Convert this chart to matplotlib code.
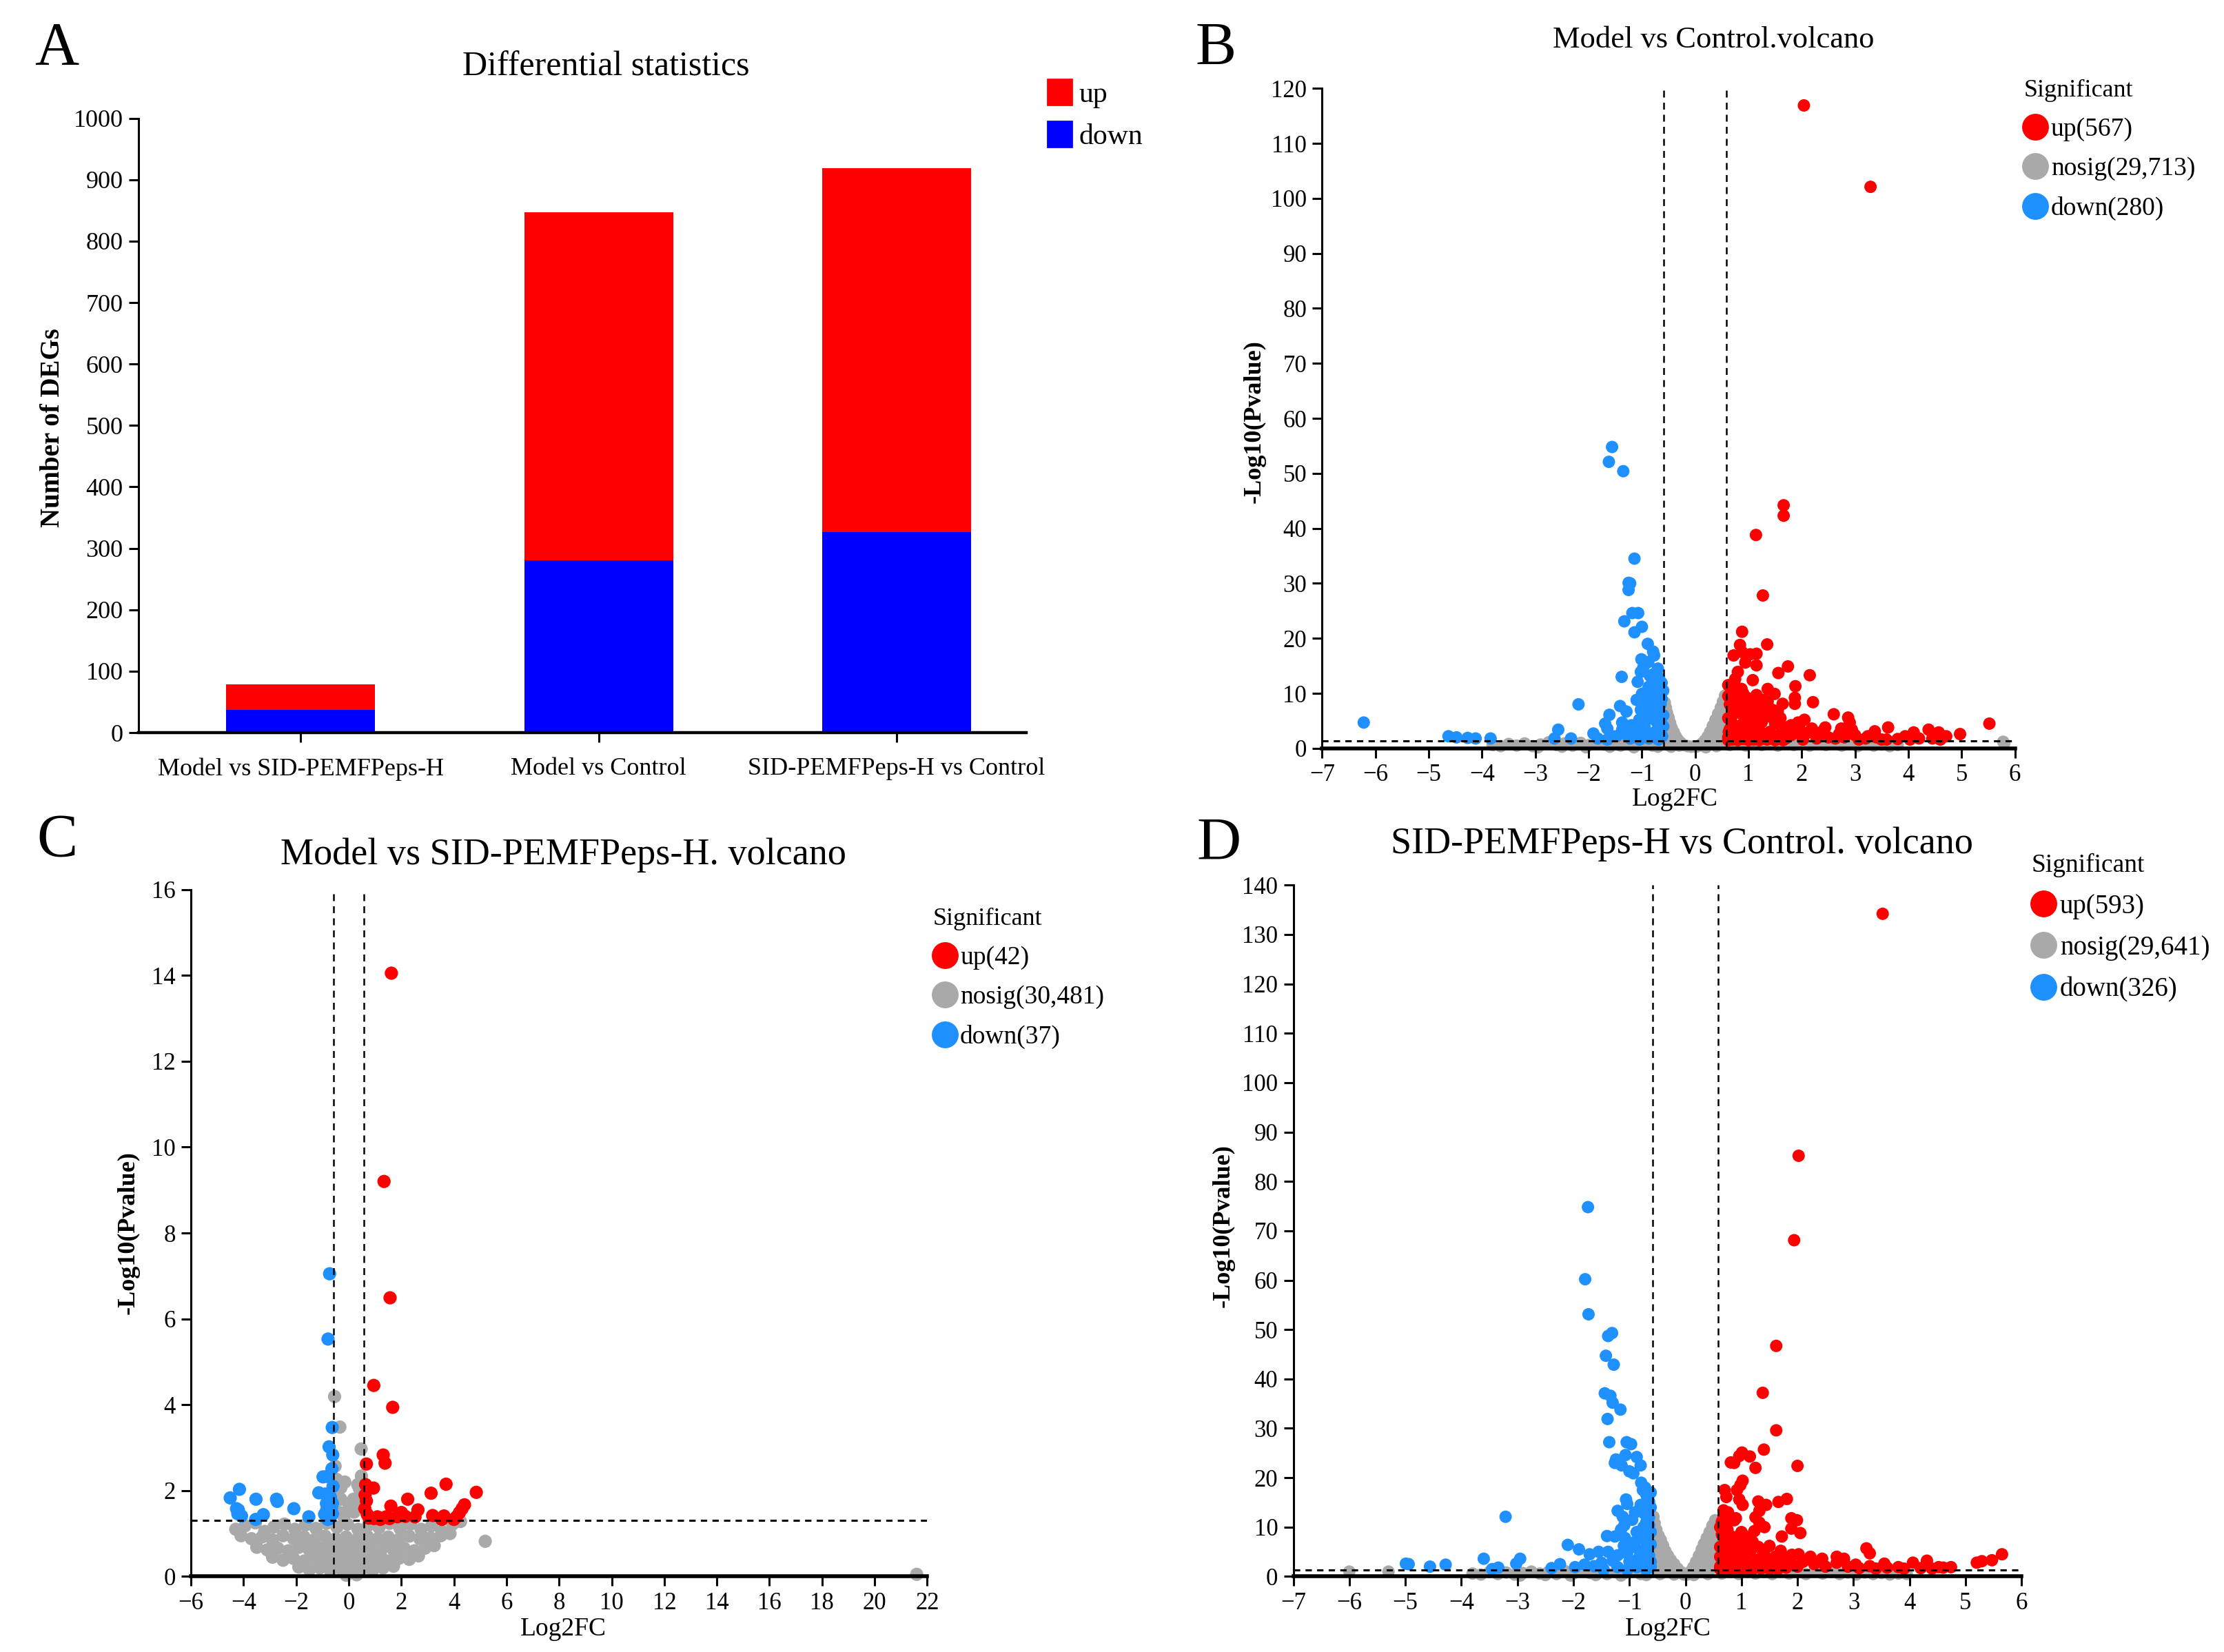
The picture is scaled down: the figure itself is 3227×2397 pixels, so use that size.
import numpy as np
import matplotlib.pyplot as plt
from matplotlib.lines import Line2D
from matplotlib.patches import Patch

plt.rcParams['font.family'] = ['Liberation Serif', 'DejaVu Serif']

# ---- panel A: DEG counts
groups = ['Model vs SID-PEMFPeps-H', 'Model vs Control', 'SID-PEMFPeps-H vs Control']
n_down = [37, 280, 326]
n_up = [42, 567, 593]
n_nosig = [30481, 29713, 29641]

# ---- panel B: Model vs Control (log2FC, -log10 p)
B_up = [(2.04, 116.9), (3.29, 102.1), (1.66, 44.2), (1.66, 42.3), (1.14, 38.8), (1.27, 27.8),
        (0.88, 21.2), (0.84, 18.8), (1.35, 18.9), (0.72, 16.9), (0.88, 17.5), (1.03, 17.1),
        (1.15, 17.2), (0.94, 15.6), (1.15, 15.1), (1.74, 14.9), (1.56, 13.7), (2.15, 13.3),
        (0.80, 13.9), (0.75, 12.6), (1.08, 12.4), (0.62, 11.5), (0.87, 10.8), (1.36, 10.8),
        (1.88, 11.3), (1.49, 9.9), (1.15, 9.7), (0.97, 9.2), (1.87, 9.2), (2.21, 8.4),
        (1.87, 8.1), (1.64, 8.1), (1.36, 8.5), (2.60, 6.2), (2.87, 5.6), (2.90, 4.7),
        (1.93, 4.7), (2.19, 3.6), (2.44, 3.8), (2.74, 3.6), (2.94, 3.4), (3.37, 3.1),
        (3.62, 3.8), (3.24, 2.2), (3.94, 2.2), (4.10, 2.9), (4.38, 3.4), (4.57, 2.9),
        (4.71, 2.2), (4.97, 2.6), (5.52, 4.5), (4.03, 1.6), (4.20, 1.8), (3.59, 1.6),
        (3.07, 1.6), (2.63, 1.8), (2.28, 1.8), (2.02, 1.6),
        (0.62, 9.5), (0.65, 8.0), (0.70, 7.0), (0.75, 9.0), (0.80, 6.5), (0.85, 8.5),
        (0.90, 7.5), (0.95, 6.0), (1.00, 8.0), (1.05, 6.8), (1.10, 7.6), (1.15, 5.5),
        (1.20, 6.5), (1.25, 4.8), (1.30, 7.2), (1.40, 5.8), (1.50, 4.5), (1.60, 5.5),
        (1.70, 3.8), (1.80, 4.2), (0.62, 5.5), (0.65, 3.5), (0.70, 4.5), (0.75, 2.5),
        (0.80, 3.8), (0.85, 2.0), (0.90, 4.6), (0.95, 3.2), (1.00, 2.4), (1.05, 4.2),
        (1.10, 2.8), (1.20, 3.4), (1.30, 2.2), (1.40, 3.0), (1.50, 2.0), (1.60, 2.6),
        (1.70, 1.8), (1.80, 2.4), (1.90, 3.0), (2.00, 2.2), (2.10, 2.8), (2.30, 2.4),
        (2.50, 2.0), (2.70, 2.6), (0.62, 2.0), (0.62, 1.5), (0.70, 1.6), (0.80, 1.5),
        (0.90, 1.7), (1.00, 1.5), (1.10, 1.6), (1.20, 1.5), (1.35, 1.6), (1.50, 1.5),
        (1.65, 1.5), (0.63, 3.0), (0.68, 6.0), (0.72, 10.5), (0.78, 11.0), (1.20, 9.0),
        (1.30, 8.8), (0.90, 10.0), (1.45, 7.0), (1.55, 6.8), (2.05, 5.2), (1.95, 4.0),
        (2.40, 3.2), (2.80, 2.0), (3.00, 2.4), (3.20, 1.8), (3.40, 2.0), (3.50, 1.6),
        (3.80, 1.7), (4.45, 1.8), (4.60, 1.6)]
B_down = [(-1.56, 54.8), (-1.62, 52.1), (-1.35, 50.4), (-1.14, 34.5), (-1.25, 30.1), (-1.22, 30.0),
          (-1.25, 28.8), (-1.18, 24.6), (-1.07, 24.6), (-1.33, 23.1), (-1.00, 22.1), (-1.14, 21.1),
          (-0.89, 19.0), (-0.79, 17.6), (-0.77, 16.9), (-1.01, 16.2), (-0.88, 15.7), (-0.97, 14.8),
          (-1.02, 13.9), (-0.78, 13.5), (-0.73, 11.9), (-0.63, 11.9), (-1.38, 13.0), (-1.08, 12.1),
          (-0.87, 11.2), (-1.00, 9.9), (-0.78, 9.4), (-0.63, 9.0), (-2.19, 8.0), (-1.41, 7.7),
          (-1.29, 6.7), (-1.61, 6.1), (-1.02, 7.0), (-0.91, 6.3), (-0.78, 7.2), (-1.69, 4.5),
          (-1.65, 3.6), (-1.37, 4.7), (-1.37, 3.4), (-1.13, 3.6), (-0.95, 4.0), (-0.73, 4.9),
          (-0.65, 3.6), (-2.57, 3.4), (-2.64, 1.8), (-2.33, 1.8), (-1.91, 2.7), (-1.83, 1.8),
          (-1.65, 1.6), (-1.48, 2.2), (-1.22, 1.8), (-1.04, 1.6), (-0.87, 1.8), (-0.69, 1.6),
          (-6.22, 4.7), (-4.63, 2.2), (-4.48, 2.0), (-4.27, 1.9), (-4.12, 1.8), (-3.84, 1.8),
          (-0.90, 10.5), (-0.70, 10.0), (-0.65, 8.0), (-0.80, 8.5), (-0.95, 7.8), (-0.70, 6.5),
          (-0.85, 5.5), (-0.65, 5.0), (-1.05, 5.2), (-0.75, 3.0), (-0.90, 2.8), (-1.10, 2.5),
          (-0.62, 2.2), (-0.80, 12.5), (-0.68, 12.8), (-0.70, 14.5), (-0.85, 13.2), (-0.95, 9.2),
          (-1.10, 8.8), (-0.60, 6.0), (-0.60, 4.0), (-0.60, 10.5), (-1.20, 4.2), (-1.30, 2.5),
          (-1.55, 2.2)]
B_nosig = [(-3.80, 0.6), (-3.65, 0.4), (-3.50, 0.8), (-3.35, 0.5), (-3.20, 0.9), (-3.05, 0.4),
           (-2.90, 0.7), (-2.75, 1.1), (-2.60, 0.6), (-2.45, 0.9), (-2.30, 0.5), (-2.15, 1.0),
           (-2.00, 0.6), (-1.85, 1.2), (-1.70, 0.7), (-1.55, 1.0), (-1.40, 0.5), (-1.25, 0.9),
           (-1.10, 0.6), (-0.95, 1.0), (-0.80, 0.5), (-0.65, 0.9), (-2.95, 0.2), (-2.50, 0.3),
           (-2.05, 0.2), (-1.60, 0.3), (-1.15, 0.2), (-0.70, 0.3),
           (-0.57, 8.3), (-0.55, 7.4), (-0.53, 6.5), (-0.50, 5.6), (-0.47, 4.6), (-0.44, 3.7),
           (-0.40, 2.9), (-0.36, 2.1), (-0.32, 1.5), (-0.27, 1.0), (-0.21, 0.6), (-0.14, 0.4),
           (-0.07, 0.3), (-0.57, 6.2), (-0.57, 4.1), (-0.57, 2.2), (-0.55, 5.0), (-0.55, 3.0),
           (-0.52, 4.2), (-0.52, 1.8), (-0.49, 3.1), (-0.46, 1.6), (-0.43, 2.3), (-0.40, 1.0),
           (-0.36, 0.9), (-0.30, 0.5), (-0.50, 0.6), (-0.45, 0.3),
           (0.02, 0.3), (0.08, 0.5), (0.13, 0.9), (0.18, 1.4), (0.23, 2.1), (0.28, 3.0),
           (0.33, 4.1), (0.38, 5.2), (0.43, 6.3), (0.48, 7.4), (0.52, 8.5), (0.56, 9.6),
           (0.56, 7.2), (0.56, 5.1), (0.56, 3.0), (0.56, 1.3), (0.52, 6.2), (0.52, 4.0),
           (0.52, 2.0), (0.47, 5.2), (0.47, 3.1), (0.42, 4.1), (0.42, 1.8), (0.37, 3.0),
           (0.37, 1.0), (0.32, 2.0), (0.27, 1.1), (0.22, 0.7), (0.40, 0.4), (0.20, 0.2),
           (0.65, 0.6), (0.80, 0.9), (0.95, 0.5), (1.10, 1.0), (1.25, 0.6), (1.40, 0.9),
           (1.55, 0.5), (1.70, 1.0), (1.85, 0.6), (2.00, 0.9), (2.15, 0.5), (2.30, 1.0),
           (2.45, 0.6), (2.60, 0.9), (2.75, 0.5), (2.90, 0.8), (3.05, 0.4), (3.20, 0.8),
           (3.35, 0.5), (3.50, 0.7), (3.65, 0.4), (3.80, 0.6), (5.80, 0.9), (5.78, 1.2)]

# ---- panel C: Model vs SID-PEMFPeps-H
C_up = [(1.62, 14.05), (1.34, 9.2), (1.57, 6.49), (0.95, 4.45), (1.67, 3.94), (1.31, 2.83),
        (1.38, 2.64), (0.67, 2.62), (0.64, 2.14), (0.94, 2.06), (3.70, 2.15), (3.13, 1.94),
        (4.85, 1.96), (2.24, 1.80), (0.67, 1.76), (1.60, 1.64), (4.40, 1.67), (4.31, 1.58),
        (4.21, 1.49), (4.10, 1.39), (2.63, 1.55), (2.52, 1.39), (2.00, 1.49), (1.85, 1.39),
        (3.19, 1.42), (3.62, 1.41), (3.54, 1.33), (0.61, 1.58), (0.77, 1.36), (1.09, 1.39),
        (1.42, 1.39), (1.20, 1.33), (0.62, 1.90), (0.70, 1.45), (2.15, 1.40), (1.55, 1.35),
        (0.95, 1.35), (4.00, 1.33)]
C_down = [(-0.73, 7.05), (-0.79, 5.53), (-0.63, 3.47), (-0.75, 3.02), (-0.61, 2.83), (-0.64, 2.51),
          (-0.98, 2.32), (-0.82, 2.33), (-1.14, 1.95), (-0.89, 1.92), (-0.62, 1.70), (-0.84, 1.55),
          (-0.62, 1.46), (-0.80, 1.33), (-4.16, 2.03), (-4.51, 1.83), (-3.53, 1.80), (-2.75, 1.80),
          (-4.27, 1.58), (-4.22, 1.46), (-4.08, 1.41), (-3.54, 1.33), (-3.25, 1.44), (-2.09, 1.58),
          (-1.52, 1.39), (-0.70, 1.85), (-0.66, 1.60), (-0.92, 1.45), (-0.72, 1.35), (-0.60, 2.10),
          (-2.72, 1.75), (-4.20, 1.55), (-0.85, 1.70)]
C_nosig = [(-4.30, 1.10), (-3.95, 1.18), (-3.55, 1.25), (-3.20, 1.05), (-2.85, 1.15), (-2.45, 1.22),
           (-2.05, 1.10), (-1.65, 1.20), (-1.25, 1.12), (-0.85, 1.24), (-0.45, 1.15), (-0.05, 1.22),
           (0.35, 1.10), (0.75, 1.20), (1.15, 1.14), (1.55, 1.24), (1.95, 1.12), (2.35, 1.22),
           (2.75, 1.10), (3.15, 1.18), (3.55, 1.05), (3.95, 1.22), (4.25, 1.28),
           (-4.10, 0.95), (-3.70, 0.88), (-3.30, 0.92), (-2.90, 0.85), (-2.50, 0.95), (-2.10, 0.88),
           (-1.70, 0.92), (-1.30, 0.86), (-0.90, 0.94), (-0.50, 0.88), (-0.10, 0.92), (0.30, 0.86),
           (0.70, 0.94), (1.10, 0.88), (1.50, 0.92), (1.90, 0.86), (2.30, 0.94), (2.70, 0.88),
           (3.10, 0.90), (3.50, 0.95), (3.85, 1.00),
           (-3.50, 0.68), (-3.10, 0.62), (-2.70, 0.66), (-2.30, 0.60), (-1.90, 0.68), (-1.50, 0.62),
           (-1.10, 0.66), (-0.70, 0.60), (-0.30, 0.68), (0.10, 0.62), (0.50, 0.66), (0.90, 0.60),
           (1.30, 0.68), (1.70, 0.62), (2.10, 0.66), (2.50, 0.60), (2.90, 0.66), (3.25, 0.72),
           (-2.90, 0.45), (-2.50, 0.38), (-2.10, 0.42), (-1.70, 0.36), (-1.30, 0.42), (-0.90, 0.38),
           (-0.50, 0.42), (-0.10, 0.36), (0.30, 0.42), (0.70, 0.38), (1.10, 0.42), (1.50, 0.36),
           (1.90, 0.42), (2.30, 0.40), (2.65, 0.48),
           (-1.90, 0.22), (-1.50, 0.16), (-1.10, 0.20), (-0.70, 0.14), (-0.30, 0.18), (0.10, 0.12),
           (0.50, 0.18), (0.90, 0.14), (1.30, 0.20), (1.70, 0.24),
           (-1.50, 0.78), (-0.75, 0.80), (0.00, 0.76), (0.80, 0.78), (1.60, 0.80), (-1.10, 0.52),
           (-0.30, 0.50), (0.40, 0.54), (1.20, 0.52), (-0.50, 0.28), (0.20, 0.26), (0.95, 0.28),
           (-0.40, 1.50), (-0.30, 1.80), (0.20, 1.50), (0.30, 1.75), (-0.20, 1.40), (0.00, 1.60),
           (-0.45, 2.00), (0.40, 2.05), (-0.15, 2.20),
           (-0.54, 4.19), (-0.34, 3.48), (0.47, 2.97), (-0.52, 2.57), (0.48, 2.34), (0.34, 2.14),
           (5.19, 0.82), (-0.46, 2.26), (-0.30, 2.07), (0.18, 1.80), (21.6, 0.05), (-0.10, 0.03),
           (0.30, 0.04)]

# ---- panel D: SID-PEMFPeps-H vs Control
D_up = [(3.52, 134.2), (2.02, 85.2), (1.94, 68.1), (1.62, 46.7), (1.38, 37.2), (1.62, 29.6),
        (1.40, 25.7), (1.01, 25.1), (0.96, 24.4), (1.15, 24.3), (0.87, 23.0), (0.81, 23.1),
        (2.00, 22.4), (1.25, 22.0), (1.02, 19.4), (0.98, 18.5), (0.70, 17.5), (0.92, 17.5),
        (0.73, 16.1), (0.96, 15.6), (1.02, 14.5), (1.30, 15.2), (1.44, 14.5), (1.32, 13.3),
        (1.81, 15.7), (1.66, 15.1), (0.68, 13.4), (0.76, 13.0), (1.89, 11.8), (1.99, 11.4),
        (0.65, 11.1), (0.87, 11.4), (1.32, 10.9), (1.41, 10.0), (1.89, 9.7), (2.05, 8.8),
        (1.23, 9.2), (1.72, 8.1), (3.23, 5.7), (3.29, 4.7), (5.65, 4.5), (5.47, 3.3),
        (5.29, 3.1), (5.20, 2.8), (2.70, 4.0), (2.83, 3.6), (2.44, 3.6), (2.23, 4.0),
        (2.02, 4.5), (3.55, 2.6), (3.80, 1.9), (4.06, 2.8), (4.31, 3.2), (4.52, 1.9),
        (4.74, 1.9), (3.04, 2.4), (3.29, 2.1),
        (0.62, 10.0), (0.65, 8.5), (0.70, 7.0), (0.75, 9.5), (0.80, 6.0), (0.85, 8.0),
        (0.90, 7.2), (0.95, 5.5), (1.00, 9.0), (1.05, 6.5), (1.10, 8.0), (1.15, 5.0),
        (1.20, 7.0), (1.30, 6.0), (1.40, 4.8), (1.50, 6.2), (1.60, 4.0), (1.70, 5.2),
        (1.80, 3.5), (1.90, 4.4), (0.62, 6.0), (0.62, 4.0), (0.66, 3.0), (0.70, 5.0),
        (0.75, 2.5), (0.80, 4.0), (0.85, 2.0), (0.90, 3.5), (0.95, 2.5), (1.00, 4.0),
        (1.05, 2.2), (1.10, 3.2), (1.20, 2.5), (1.30, 3.5), (1.40, 2.2), (1.50, 3.0),
        (1.60, 2.0), (1.70, 2.6), (1.80, 1.8), (1.90, 2.5), (2.00, 2.0), (2.10, 3.0),
        (2.30, 2.5), (2.50, 2.0), (2.70, 2.8), (2.90, 2.0), (0.62, 2.0), (0.62, 1.5),
        (0.70, 1.6), (0.80, 1.5), (0.90, 1.7), (1.00, 1.5), (1.10, 1.6), (1.20, 1.5),
        (1.35, 1.6), (1.50, 1.5), (1.65, 1.5), (0.68, 12.0), (0.72, 11.0), (1.25, 12.0),
        (0.90, 11.8), (3.10, 1.7), (3.40, 1.6), (3.60, 1.8), (3.90, 1.6), (4.20, 1.7),
        (4.40, 1.6), (4.60, 1.8)]
D_down = [(-1.79, 60.2), (-1.73, 53.1), (-1.74, 74.8), (-1.31, 49.3), (-1.38, 48.7), (-1.42, 44.7),
          (-1.28, 42.9), (-1.44, 37.1), (-1.34, 36.6), (-1.30, 35.2), (-1.16, 33.8), (-1.39, 31.9),
          (-1.36, 27.2), (-1.05, 27.2), (-0.97, 26.8), (-1.07, 24.6), (-0.87, 24.2), (-1.24, 23.7),
          (-1.26, 23.0), (-1.14, 22.5), (-0.80, 22.5), (-1.00, 21.3), (-0.93, 20.9), (-0.79, 19.0),
          (-0.76, 17.5), (-0.70, 16.6), (-1.06, 15.6), (-0.65, 15.2), (-1.04, 14.7), (-1.21, 13.3),
          (-1.12, 12.1), (-0.74, 12.8), (-3.21, 12.1), (-1.09, 10.4), (-0.65, 10.4), (-0.87, 9.0),
          (-1.40, 8.2), (-1.26, 8.1), (-1.08, 7.8), (-0.70, 7.1), (-2.10, 6.4), (-1.90, 5.5),
          (-1.71, 4.5), (-1.55, 5.0), (-1.38, 5.0), (-1.21, 4.3), (-1.04, 4.7), (-0.82, 5.2),
          (-0.65, 4.3), (-3.60, 3.6), (-2.95, 3.6), (-3.02, 2.6), (-4.99, 2.6), (-4.94, 2.5),
          (-4.56, 2.0), (-4.28, 2.4), (-3.45, 1.5), (-3.34, 1.8), (-2.39, 1.7), (-2.24, 2.5),
          (-1.97, 1.9), (-1.80, 2.4), (-1.63, 2.1), (-1.46, 1.4), (-1.21, 1.9), (-1.04, 1.4),
          (-0.87, 1.9), (-0.70, 1.4),
          (-0.62, 14.0), (-0.65, 12.0), (-0.70, 11.0), (-0.75, 10.0), (-0.62, 9.0), (-0.80, 8.5),
          (-0.90, 7.0), (-0.62, 6.5), (-0.95, 6.0), (-0.70, 5.8), (-1.10, 6.2), (-0.85, 3.5),
          (-0.62, 3.0), (-1.00, 3.0), (-1.30, 3.2), (-1.50, 2.8), (-0.75, 2.5), (-0.62, 2.0),
          (-0.90, 13.0), (-0.80, 14.5), (-0.68, 16.0), (-0.72, 18.0), (-0.62, 17.0), (-0.95, 11.5),
          (-1.15, 9.5)]
D_nosig = [(-3.80, 0.6), (-3.65, 0.4), (-3.50, 0.9), (-3.35, 0.5), (-3.20, 0.8), (-3.05, 0.4),
           (-2.90, 0.7), (-2.75, 1.0), (-2.60, 0.6), (-2.45, 0.9), (-2.30, 0.5), (-2.15, 1.1),
           (-2.00, 0.6), (-1.85, 1.0), (-1.70, 0.7), (-1.55, 1.1), (-1.40, 0.5), (-1.25, 0.9),
           (-1.10, 0.6), (-0.95, 1.0), (-0.80, 0.5), (-0.65, 0.9), (-2.95, 0.2), (-2.50, 0.3),
           (-2.05, 0.2), (-1.60, 0.3), (-1.15, 0.2), (-0.70, 0.3), (-6.00, 1.0), (-5.30, 1.0),
           (-0.57, 12.1), (-0.55, 10.8), (-0.52, 9.5), (-0.48, 8.3), (-0.44, 7.4), (-0.40, 6.3),
           (-0.36, 5.2), (-0.31, 4.2), (-0.26, 3.3), (-0.20, 2.5), (-0.14, 1.6), (-0.08, 0.9),
           (-0.03, 0.4), (-0.57, 9.8), (-0.57, 7.5), (-0.57, 5.2), (-0.57, 3.0), (-0.57, 1.2),
           (-0.53, 7.0), (-0.53, 4.5), (-0.53, 2.2), (-0.48, 5.5), (-0.48, 3.0), (-0.43, 4.2),
           (-0.43, 1.6), (-0.38, 3.0), (-0.33, 1.8), (-0.28, 0.9), (-0.45, 0.5), (-0.20, 0.4),
           (0.03, 0.4), (0.09, 1.0), (0.14, 1.9), (0.19, 3.0), (0.24, 4.2), (0.29, 5.5),
           (0.33, 6.6), (0.38, 7.8), (0.43, 9.0), (0.48, 10.3), (0.53, 11.4), (0.56, 9.5),
           (0.56, 7.0), (0.56, 4.5), (0.56, 2.0), (0.51, 8.0), (0.51, 5.5), (0.51, 3.0),
           (0.45, 6.5), (0.45, 4.0), (0.45, 1.5), (0.39, 5.0), (0.39, 2.6), (0.33, 3.6),
           (0.33, 1.2), (0.27, 2.2), (0.21, 1.0), (0.40, 0.5), (0.15, 0.3),
           (0.65, 0.6), (0.80, 0.9), (0.95, 0.5), (1.10, 1.0), (1.25, 0.6), (1.40, 0.9),
           (1.55, 0.5), (1.70, 1.0), (1.85, 0.6), (2.00, 0.9), (2.15, 0.5), (2.30, 1.0),
           (2.45, 0.6), (2.60, 0.9), (2.75, 0.5), (2.90, 0.8), (3.05, 0.4), (3.20, 0.8),
           (3.35, 0.5), (3.50, 0.7), (3.65, 0.4), (3.80, 0.6), (3.95, 0.5)]

RED = '#FF0000'
GREY = '#A9A9A9'
SKY = '#1E90FF'

W, H = 3227, 2397
fig = plt.figure(figsize=(W / 200, H / 200), dpi=200)


def style_axes(ax, bottom_lw=1.2, labelsize=12):
    for side in ['top', 'right']:
        ax.spines[side].set_visible(False)
    ax.spines['left'].set_linewidth(1.1)
    ax.spines['bottom'].set_linewidth(bottom_lw)
    ax.tick_params(direction='out', length=5, width=1.1, labelsize=labelsize, pad=3)


# ---------------- A
axA = fig.add_axes([0.0622, 0.5565, 0.3993, 0.3719])
x = np.arange(len(groups))
axA.bar(x, n_down, width=0.5, color='#0000FF', label='down')
axA.bar(x, n_up, width=0.5, bottom=n_down, color=RED, label='up')
axA.set_xlim(-0.545, 2.435)
axA.set_ylim(0, 1000)
axA.set_yticks(np.arange(0, 1001, 100))
axA.set_xticks(x)
axA.set_xticklabels(groups)
style_axes(axA, 1.6, 13)
axA.tick_params(axis='x', pad=8)
fig.text(0.2724, 0.9594, 'Differential statistics', ha='center', va='center', fontsize=18)
fig.text(0.0237, 0.741, 'Number of DEGs', rotation=90, ha='center', va='center',
         fontsize=14, fontweight='bold')
axA.legend(handles=[Patch(color=RED), Patch(color='#0000FF')], labels=['up', 'down'],
           loc='upper left', bbox_to_anchor=(0.471, 0.952), bbox_transform=fig.transFigure,
           frameon=False, fontsize=15, handlelength=0.85, handleheight=1.0,
           handletextpad=0.25, labelspacing=0.45, borderpad=0, borderaxespad=0)


def volcano(rect, up, nosig, down, counts, xlim, xticks, ylim, yticks, leg_xy, leg_fs, size):
    ax = fig.add_axes(rect)
    g = np.array(nosig)
    d = np.array(down)
    u = np.array(up)
    ax.scatter(g[:, 0], g[:, 1], s=size, color=GREY, edgecolors='none', clip_on=False, zorder=1)
    ax.scatter(d[:, 0], d[:, 1], s=size, color=SKY, edgecolors='none', clip_on=False, zorder=2)
    ax.scatter(u[:, 0], u[:, 1], s=size, color=RED, edgecolors='none', clip_on=False, zorder=2)
    for v in (-0.585, 0.585):
        ax.axvline(v, color='black', lw=0.9, ls=(0, (4, 3)), zorder=3)
    ax.axhline(-np.log10(0.05), color='black', lw=1.1, ls=(0, (3, 2.5)), zorder=3)
    ax.set_xlim(*xlim)
    ax.set_ylim(*ylim)
    ax.set_xticks(xticks)
    ax.set_yticks(yticks)
    style_axes(ax, 2.0, 12.5)
    ax.spines['bottom'].set_zorder(4)
    handles = [Line2D([], [], ls='', marker='o', markersize=13, color=c) for c in (RED, GREY, SKY)]
    labels = [f'up({counts[0]:,})', f'nosig({counts[1]:,})', f'down({counts[2]:,})']
    ax.legend(handles, labels, title='Significant', loc='upper left', bbox_to_anchor=leg_xy,
              bbox_transform=fig.transFigure, frameon=False, alignment='left',
              fontsize=leg_fs, title_fontsize=leg_fs - 0.5, handlelength=0.9, handletextpad=0.15,
              labelspacing=0.6, borderpad=0, borderaxespad=0)
    return ax


# ---------------- B
volcano([0.5945, 0.5470, 0.3115, 0.3995], B_up, B_nosig, B_down,
        [n_up[1], n_nosig[1], n_down[1]], (-7, 6), np.arange(-7, 7), (0, 120),
        np.arange(0, 121, 10), (0.910, 0.952), 13.5, 42)
fig.text(0.7705, 0.9758, 'Model vs Control.volcano', ha='center', va='center', fontsize=16)
fig.text(0.5640, 0.745, '-Log10(Pvalue)', rotation=90, ha='center', va='center',
         fontsize=13, fontweight='bold')
fig.text(0.7532, 0.5160, 'Log2FC', ha='center', va='center', fontsize=13.5)

# ---------------- C
volcano([0.0859, 0.0457, 0.3310, 0.4159], C_up, C_nosig, C_down,
        [n_up[0], n_nosig[0], n_down[0]], (-6, 22), np.arange(-6, 23, 2), (0, 16),
        np.arange(0, 17, 2), (0.4195, 0.4505), 13.5, 48)
fig.text(0.2532, 0.4823, 'Model vs SID-PEMFPeps-H. volcano', ha='center', va='center', fontsize=19.5)
fig.text(0.0577, 0.2537, '-Log10(Pvalue)', rotation=90, ha='center', va='center',
         fontsize=13, fontweight='bold')
fig.text(0.2532, 0.0138, 'Log2FC', ha='center', va='center', fontsize=13.5)

# ---------------- D
volcano([0.5815, 0.0457, 0.3275, 0.4185], D_up, D_nosig, D_down,
        [n_up[2], n_nosig[2], n_down[2]], (-7, 6), np.arange(-7, 7), (0, 140),
        np.arange(0, 141, 10), (0.9135, 0.4835), 14, 42)
fig.text(0.7564, 0.4892, 'SID-PEMFPeps-H vs Control. volcano', ha='center', va='center', fontsize=19.5)
fig.text(0.5500, 0.2580, '-Log10(Pvalue)', rotation=90, ha='center', va='center',
         fontsize=13, fontweight='bold')
fig.text(0.7500, 0.0138, 'Log2FC', ha='center', va='center', fontsize=13.5)

# panel letters
for letter, (px, py) in zip('ABCD', [(0.0256, 0.970), (0.5468, 0.970), (0.0256, 0.491), (0.548, 0.489)]):
    fig.text(px, py, letter, ha='center', va='center', fontsize=32)

fig.savefig('out.png', dpi=200)
